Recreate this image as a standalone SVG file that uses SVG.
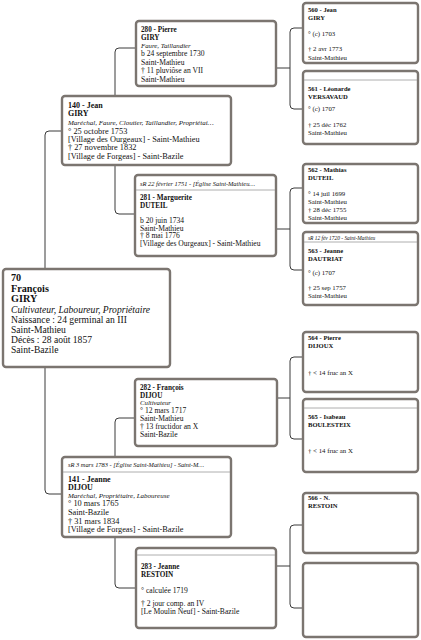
<svg xmlns="http://www.w3.org/2000/svg" width="421" height="640" viewBox="0 0 421 640">
<style>
.box{fill:#fff;stroke:#7b7570;stroke-width:2.4}
.sep{stroke:#9a9a9a;stroke-width:0.8}
.con{fill:none;stroke:#3a3a3a;stroke-width:1}
text{font-family:"Liberation Serif","Times New Roman",serif;fill:#111}
.b{font-weight:bold}
.i{font-style:italic}
.g1{font-size:8.3px}
.g1b{font-size:8px;font-weight:bold}
.g1i{font-size:7px;font-style:italic}
.g2{font-size:7.6px}
.g2b{font-size:7.2px;font-weight:bold}
.g2i{font-size:6.8px;font-style:italic}
.g3{font-size:6.8px}
.g3b{font-size:6.6px;font-weight:bold}
.hd{font-size:6.4px;font-style:italic}
.hd3{font-size:5.4px;font-style:italic}
.r{font-size:9.6px}
.rb{font-size:10.2px;font-weight:bold}
</style>
<g id="connectors">
<path class="con" d="M45,269 V135 Q45,131 49,131 H62"/>
<path class="con" d="M45,367 V490 Q45,494 49,494 H62"/>
<path class="con" d="M115,96 V52 Q115,48 119,48 H136"/>
<path class="con" d="M115,165 V210 Q115,214 119,214 H135"/>
<path class="con" d="M115,457 V422 Q115,418 119,418 H135"/>
<path class="con" d="M115,537 V584 Q115,588 119,588 H136"/>
<path class="con" d="M276,68 H290"/>
<path class="con" d="M303,28 H294 Q290,28 290,32 V105 Q290,109 294,109 H303"/>
<path class="con" d="M276,229 H290"/>
<path class="con" d="M303,188 H294 Q290,188 290,192 V266 Q290,270 294,270 H303"/>
<path class="con" d="M277,398 H290"/>
<path class="con" d="M303,357 H294 Q290,357 290,361 V435 Q290,439 294,439 H303"/>
<path class="con" d="M276,566 H290"/>
<path class="con" d="M303,525 H294 Q290,525 290,529 V604 Q290,608 294,608 H303"/>
</g>
<g id="n70">
<rect class="box" x="3" y="269" width="167" height="98" rx="3" stroke-width="3"/>
<text class="rb" x="11" y="281">70</text>
<text class="rb" x="11" y="291.5">François</text>
<text class="rb" x="11" y="302">GIRY</text>
<text class="r i" x="11" y="312.5">Cultivateur, Laboureur, Propriétaire</text>
<text class="r" x="11" y="322.5">Naissance : 24 germinal an III</text>
<text class="r" x="11" y="332.5">Saint-Mathieu</text>
<text class="r" x="11" y="342.5">Décès : 28 août 1857</text>
<text class="r" x="11" y="352.5">Saint-Bazile</text>
</g>
<g id="n140">
<rect class="box" x="62" y="96" width="169" height="69" rx="3"/>
<text class="g1b" x="68" y="107.5">140 - Jean</text>
<text class="g1b" x="68" y="116">GIRY</text>
<text class="g1i" x="68" y="125">Maréchal, Faure, Cloutier, Taillandier, Propriétai…</text>
<text class="g1" x="68" y="134">° 25 octobre 1753</text>
<text class="g1" x="68" y="142">[Village des Ourgeaux] - Saint-Mathieu</text>
<text class="g1" x="68" y="150">† 27 novembre 1832</text>
<text class="g1" x="68" y="159">[Village de Forgeas] - Saint-Bazile</text>
</g>
<g id="n141">
<rect class="box" x="62" y="457" width="169" height="80" rx="3"/>
<text class="hd" x="68" y="467">sR 3 mars 1783 - [Église Saint-Mathieu] - Saint-M…</text>
<line class="sep" x1="63" y1="472" x2="230" y2="472"/>
<text class="g1b" x="68" y="481.5">141 - Jeanne</text>
<text class="g1b" x="68" y="490">DIJOU</text>
<text class="g1i" x="68" y="497.5">Maréchal, Propriétaire, Laboureuse</text>
<text class="g1" x="68" y="506">° 10 mars 1765</text>
<text class="g1" x="68" y="515">Saint-Bazile</text>
<text class="g1" x="68" y="524">† 31 mars 1834</text>
<text class="g1" x="68" y="532">[Village de Forgeas] - Saint-Bazile</text>
</g>
<g id="n280">
<rect class="box" x="136" y="21" width="140" height="65" rx="3"/>
<text class="g2b" x="141" y="31.5">280 - Pierre</text>
<text class="g2b" x="141" y="39.5">GIRY</text>
<text class="g2i" x="141" y="48">Faure, Taillandier</text>
<text class="g2" x="141" y="56">b 24 septembre 1730</text>
<text class="g2" x="141" y="65">Saint-Mathieu</text>
<text class="g2" x="141" y="73">† 11 pluviôse an VII</text>
<text class="g2" x="141" y="82">Saint-Mathieu</text>
</g>
<g id="n281">
<rect class="box" x="135" y="175" width="141" height="81" rx="3"/>
<text class="hd" x="140" y="186">sR 22 février 1751 - [Église Saint-Mathieu…</text>
<line class="sep" x1="136" y1="190" x2="275" y2="190"/>
<text class="g2b" x="140" y="199.5">281 - Marguerite</text>
<text class="g2b" x="140" y="207.5">DUTEIL</text>
<text class="g2" x="140" y="223">b 20 juin 1734</text>
<text class="g2" x="140" y="230.5">Saint-Mathieu</text>
<text class="g2" x="140" y="238">† 8 mai 1776</text>
<text class="g2" x="140" y="246">[Village des Ourgeaux] - Saint-Mathieu</text>
</g>
<g id="n282">
<rect class="box" x="135" y="379" width="142" height="67" rx="3"/>
<text class="g2b" x="140" y="389.5">282 - François</text>
<text class="g2b" x="140" y="397.5">DIJOU</text>
<text class="g2i" x="140" y="405">Cultivateur</text>
<text class="g2" x="140" y="413">° 12 mars 1717</text>
<text class="g2" x="140" y="421">Saint-Mathieu</text>
<text class="g2" x="140" y="429">† 13 fructidor an X</text>
<text class="g2" x="140" y="437">Saint-Bazile</text>
</g>
<g id="n283">
<rect class="box" x="136" y="548" width="140" height="80" rx="3"/>
<line class="sep" x1="137" y1="555" x2="275" y2="555"/>
<text class="g2b" x="141" y="568.5">283 - Jeanne</text>
<text class="g2b" x="141" y="576.5">RESTOIN</text>
<text class="g2" x="141" y="593">° calculée 1719</text>
<text class="g2" x="141" y="606">† 2 jour comp. an IV</text>
<text class="g2" x="141" y="614">[Le Moulin Neuf] - Saint-Bazile</text>
</g>
<g id="n560">
<rect class="box" x="303" y="3" width="115" height="60" rx="3"/>
<text class="g3b" x="308" y="12">560 - Jean</text>
<text class="g3b" x="308" y="20">GIRY</text>
<text class="g3" x="308" y="36">° (c) 1703</text>
<text class="g3" x="308" y="51">† 2 avr 1773</text>
<text class="g3" x="308" y="60">Saint-Mathieu</text>
</g>
<g id="n561">
<rect class="box" x="303" y="71" width="115" height="73" rx="3"/>
<line class="sep" x1="304" y1="80" x2="417" y2="80"/>
<text class="g3b" x="308" y="90.5">561 - Léonarde</text>
<text class="g3b" x="308" y="98.5">VERSAVAUD</text>
<text class="g3" x="308" y="111">° (c) 1707</text>
<text class="g3" x="308" y="127">† 25 déc 1762</text>
<text class="g3" x="308" y="135">Saint-Mathieu</text>
</g>
<g id="n562">
<rect class="box" x="303" y="164" width="115" height="59" rx="3"/>
<text class="g3b" x="308" y="171.5">562 - Mathias</text>
<text class="g3b" x="308" y="180">DUTEIL</text>
<text class="g3" x="308" y="196">° 14 juil 1699</text>
<text class="g3" x="308" y="204">Saint-Mathieu</text>
<text class="g3" x="308" y="212">† 28 déc 1755</text>
<text class="g3" x="308" y="220">Saint-Mathieu</text>
</g>
<g id="n563">
<rect class="box" x="303" y="232" width="115" height="73" rx="3"/>
<text class="hd3" x="308" y="239.5">sR 12 fév 1720 - Saint-Mathieu</text>
<line class="sep" x1="304" y1="242" x2="417" y2="242"/>
<text class="g3b" x="308" y="253">563 - Jeanne</text>
<text class="g3b" x="308" y="261">DAUTRIAT</text>
<text class="g3" x="308" y="275">° (c) 1707</text>
<text class="g3" x="308" y="290">† 25 sep 1757</text>
<text class="g3" x="308" y="298">Saint-Mathieu</text>
</g>
<g id="n564">
<rect class="box" x="303" y="332" width="115" height="60" rx="3"/>
<text class="g3b" x="308" y="340">564 - Pierre</text>
<text class="g3b" x="308" y="348">DIJOUX</text>
<text class="g3" x="308" y="375">† &lt; 14 fruc an X</text>
</g>
<g id="n565">
<rect class="box" x="303" y="399" width="115" height="73" rx="3"/>
<line class="sep" x1="304" y1="408" x2="417" y2="408"/>
<text class="g3b" x="308" y="419">565 - Isabeau</text>
<text class="g3b" x="308" y="427">BOULESTEIX</text>
<text class="g3" x="308" y="453">† &lt; 14 fruc an X</text>
</g>
<g id="n566">
<rect class="box" x="303" y="493" width="115" height="60" rx="3"/>
<text class="g3b" x="308" y="499.5">566 - N.</text>
<text class="g3b" x="308" y="507.5">RESTOIN</text>
</g>
<g id="n567">
<rect class="box" x="303" y="563" width="115" height="74" rx="3"/>
</g>
</svg>
